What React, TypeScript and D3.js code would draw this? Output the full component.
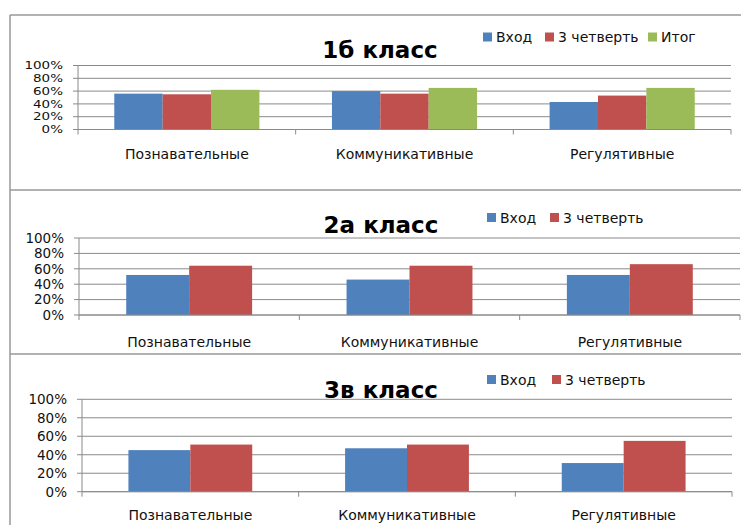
import React from "react";
import * as d3 from "d3";

// ---- data ----
const categories = ["Познавательные", "Коммуникативные", "Регулятивные"];
const seriesNames3 = ["Вход", "3 четверть", "Итог"];
const seriesNames2 = ["Вход", "3 четверть"];
const class1bVhod = [56, 60, 43];
const class1bQuarter3 = [55, 56, 53];
const class1bItog = [62, 65, 65];
const class2aVhod = [52, 46, 52];
const class2aQuarter3 = [64, 64, 66];
const class3vVhod = [45, 47, 31];
const class3vQuarter3 = [51, 51, 55];
const yTicks = [0, 20, 40, 60, 80, 100];
const yTickLabels = ["0%", "20%", "40%", "60%", "80%", "100%"];
const titles = ["1б класс", "2а класс", "3в класс"];

// ---- styles / layout ----
const colors = ["#4F81BD", "#C0504D", "#9BBB59"];
const FONT = "'DejaVu Sans', sans-serif";
const GRID = "#8a8a8a";

const panels = [
  {
    title: titles[0],
    series: [class1bVhod, class1bQuarter3, class1bItog],
    names: seriesNames3,
    x0: 78, x1: 731, yTop: 65.5, yBot: 129.5,
    titleX: 380, titleY: 58,
    legendY: 37, legendX: [483, 545, 648],
    catY: 159,
    yLabelScale: 0.78,
  },
  {
    title: titles[1],
    series: [class2aVhod, class2aQuarter3],
    names: seriesNames2,
    x0: 79, x1: 740, yTop: 238, yBot: 315,
    titleX: 381, titleY: 233,
    legendY: 217.5, legendX: [487, 550],
    catY: 346.5,
    yLabelScale: 1,
  },
  {
    title: titles[2],
    series: [class3vVhod, class3vQuarter3],
    names: seriesNames2,
    x0: 82, x1: 732, yTop: 399.3, yBot: 491.7,
    titleX: 381, titleY: 398,
    legendY: 379.5, legendX: [487, 552],
    catY: 519.5,
    yLabelScale: 1,
  },
];

function Panel({ p }: { p: any }) {
  const x = d3.scaleBand<string>().domain(categories).range([p.x0, p.x1]).padding(0);
  const n = p.series.length;
  const bw = x.bandwidth();
  const w = bw / (n + 1.5);
  const xs = d3
    .scaleBand<number>()
    .domain(d3.range(n))
    .range([0.75 * w, bw - 0.75 * w])
    .padding(0);
  const y = d3.scaleLinear().domain([0, 100]).range([p.yBot, p.yTop]);
  const ticksX = [...categories.map((c) => x(c)!), p.x1];

  return (
    <g>
      {yTicks.map((t) => (
        <line key={"g" + t} x1={p.x0} x2={p.x1} y1={y(t)} y2={y(t)} stroke={GRID} strokeWidth={1} />
      ))}
      {p.series.map((vals: number[], si: number) =>
        vals.map((v, ci) => (
          <rect
            key={si + "-" + ci}
            x={x(categories[ci])! + xs(si)!}
            y={y(v)}
            width={xs.bandwidth()}
            height={y(0) - y(v)}
            fill={colors[si]}
          />
        ))
      )}
      <line x1={p.x0} x2={p.x0} y1={p.yTop} y2={p.yBot} stroke={GRID} strokeWidth={1} />
      {yTicks.map((t) => (
        <line key={"yt" + t} x1={p.x0 - 5} x2={p.x0} y1={y(t)} y2={y(t)} stroke={GRID} strokeWidth={1} />
      ))}
      <line x1={p.x0} x2={p.x1} y1={y(0)} y2={y(0)} stroke={GRID} strokeWidth={1} />
      {ticksX.map((tx, i) => (
        <line key={"xt" + i} x1={tx} x2={tx} y1={y(0)} y2={y(0) + 5} stroke={GRID} strokeWidth={1} />
      ))}
      {yTicks.map((t, i) => (
        <text
          key={"yl" + t}
          transform={`translate(${p.x0 - 15},${y(t)}) scale(1,${p.yLabelScale})`}
          dy="0.36em"
          textAnchor="end"
          fontFamily={FONT}
          fontSize={13.5}
          fill="#111"
        >
          {yTickLabels[i]}
        </text>
      ))}
      {categories.map((c) => (
        <text
          key={"c" + c}
          x={x(c)! + bw / 2}
          y={p.catY}
          textAnchor="middle"
          fontFamily={FONT}
          fontSize={14}
          fill="#111"
        >
          {c}
        </text>
      ))}
      <text
        x={p.titleX}
        y={p.titleY}
        textAnchor="middle"
        fontFamily={FONT}
        fontWeight="bold"
        fontSize={23}
        fill="#000"
      >
        {p.title}
      </text>
      {p.names.map((name: string, i: number) => (
        <g key={"lg" + i}>
          <rect x={p.legendX[i]} y={p.legendY - 4.5} width={9} height={9} fill={colors[i]} />
          <text
            x={p.legendX[i] + 13}
            y={p.legendY}
            dy="0.36em"
            fontFamily={FONT}
            fontSize={14}
            fill="#111"
          >
            {name}
          </text>
        </g>
      ))}
    </g>
  );
}

export default function App() {
  return (
    <svg
      width={741}
      height={525}
      style={{ position: "absolute", left: 0, top: 0, background: "#fff" }}
    >
      <rect x={0} y={0} width={741} height={525} fill="#fff" />
      <line x1={10} x2={10} y1={15} y2={525} stroke="#999" strokeWidth={1.5} />
      <line x1={10} x2={741} y1={15} y2={15} stroke="#999" strokeWidth={1.5} />
      <line x1={10} x2={741} y1={190} y2={190} stroke="#999" strokeWidth={1.5} />
      <line x1={10} x2={741} y1={354} y2={354} stroke="#999" strokeWidth={1.5} />
      {panels.map((p, i) => (
        <Panel key={i} p={p} />
      ))}
    </svg>
  );
}
